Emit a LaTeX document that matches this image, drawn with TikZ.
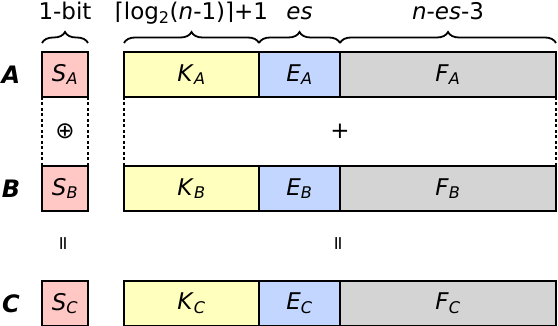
\documentclass[tikz,border=0pt]{standalone}
\usepackage{fontspec}
\setmainfont{DejaVu Sans}
\usetikzlibrary{calc,decorations.pathreplacing}
\definecolor{signfill}{RGB}{255,200,196}
\definecolor{regfill}{RGB}{255,255,190}
\definecolor{expfill}{RGB}{194,214,255}
\definecolor{fracfill}{RGB}{212,212,212}
\newcommand{\SLx}{42}
\newcommand{\SWd}{46}
\newcommand{\KLx}{124}
\newcommand{\KWd}{135}
\newcommand{\EWd}{81}
\newcommand{\FWd}{216}
\newcommand{\BoxHt}{45}
\newcommand{\fld}[2]{\textit{#1}\textsubscript{\textit{#2}}}
\tikzset{
  field/.style={
    draw,
    line width=2.6pt,
    anchor=north west,
    inner sep=0pt,
    outer sep=0pt,
    minimum height=\BoxHt pt,
    font=\fontsize{23}{26}\selectfont
  },
  rowlabel/.style={font=\fontsize{24}{26}\selectfont\bfseries\itshape},
  fieldbrace/.style={
    line width=1.8pt,
    decorate,
    decoration={brace,amplitude=11pt}
  },
  bracelabel/.style={font=\fontsize{23}{26}\selectfont,anchor=base},
  guideline/.style={line width=2.6pt,dash pattern=on 3pt off 2.5pt},
  opsign/.style={font=\fontsize{23}{26}\selectfont},
  eqsign/.style={rotate=90,font=\fontsize{19}{21}\selectfont}
}
\newcommand{\DrawFieldRow}[2]{%
  \node[rowlabel] (lab#1) at (11,-#2-22.5) {#1};
  \node[field,fill=signfill,minimum width=\SWd pt] (S#1) at (\SLx,-#2) {\fld{S}{#1}};
  \node[field,fill=regfill,minimum width=\KWd pt] (K#1) at (\KLx,-#2) {\fld{K}{#1}};
  \node[field,fill=expfill,minimum width=\EWd pt] (E#1) at (K#1.north east) {\fld{E}{#1}};
  \node[field,fill=fracfill,minimum width=\FWd pt] (F#1) at (E#1.north east) {\fld{F}{#1}};
}

\begin{document}
\begin{tikzpicture}[x=1pt,y=1pt]
  \useasboundingbox (0,0) rectangle (558,-326);

  \foreach \r/\ty in {A/52,B/166,C/281} {
    \DrawFieldRow{\r}{\ty}
  }

  % field widths
  \draw[fieldbrace] ([yshift=9pt]SA.north west) -- ([yshift=9pt]SA.north east)
    node[bracelabel,midway,yshift=23pt] {1-bit};
  \draw[fieldbrace] ([yshift=9pt]KA.north west) -- ([yshift=9pt]KA.north east)
    node[bracelabel,midway,yshift=23pt] {⌈log\textsubscript{2}(\textit{n}-1)⌉+1};
  \draw[fieldbrace] ([yshift=9pt]EA.north west) -- ([yshift=9pt]EA.north east)
    node[bracelabel,midway,yshift=23pt] {\textit{es}};
  \draw[fieldbrace] ([yshift=9pt]FA.north west) -- ([yshift=9pt]FA.north east)
    node[bracelabel,midway,yshift=23pt] {\textit{n}-\textit{es}-3};

  % A and B joined
  \draw[guideline] (SA.south west) -- (SB.north west);
  \draw[guideline] (SA.south east) -- (SB.north east);
  \draw[guideline] (KA.south west) -- (KB.north west);
  \draw[guideline] (FA.south east) -- (FB.north east);
  \node[opsign] (xorop) at ($(SA.south)!0.5!(SB.north)$) {⊕};
  \node[opsign] (addop) at ($(EA.south east)!0.5!(EB.north east)$) {+};

  % result C
  \node[eqsign] (signeq) at ($(SB.south)!0.47!(SC.north)$) {=};
  \node[eqsign] (resteq) at ($(EB.south east)!0.47!(EC.north east)$) {=};
\end{tikzpicture}
\end{document}
